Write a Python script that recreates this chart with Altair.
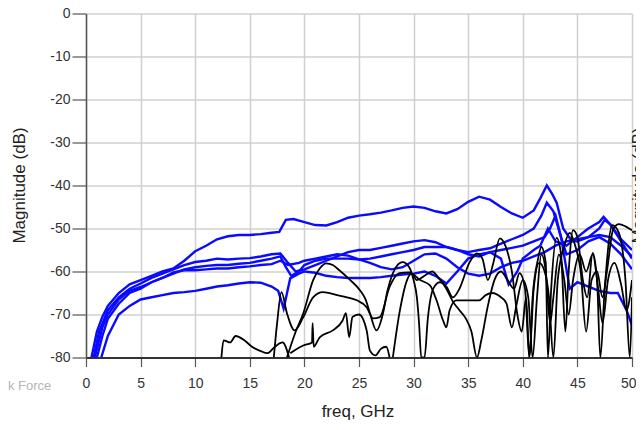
import altair as alt
import pandas as pd

x_ticks = [0, 5, 10, 15, 20, 25, 30, 35, 40, 45, 50]
y_ticks = [-80, -75, -70, -65, -60, -55, -50, -45, -40, -35, -30, -25, -20, -15, -10, -5, 0]

blue_1 = [(0.5,-80),(1,-74),(1.5,-70.5),(2,-68),(3,-65),(4,-63),(5,-62),(6,-61),(7,-60),(8,-59.3),(9,-57.5),(10,-55.3),
          (11,-54),(12,-52.5),(13,-51.8),(14,-51.5),(15,-51.5),(16,-51.3),(17,-51),(17.7,-50.8),(18.3,-48),(19,-47.8),
          (20,-48.5),(21,-49.2),(22,-49.3),(23,-48.5),(24,-47.5),(25,-47),(26,-46.7),(27,-46.3),(28,-45.8),(29,-45.2),
          (30,-44.9),(31,-45.2),(32,-46),(33,-46.5),(34,-45.5),(35,-43.8),(36,-42.6),(37,-43.3),(38,-45),(39,-46.5),
          (40,-47.5),(41,-45.8),(41.6,-43),(42.2,-40),(42.7,-42),(43.1,-44),(43.7,-50),(44.5,-53),(45,-53),(46,-52),
          (47,-50),(47.5,-48),(48,-49),(49,-53),(50,-57)]
blue_2 = [(0.7,-80),(1.2,-74),(2,-69),(3,-66),(4,-64),(5,-62.8),(6,-61.5),(7,-60.5),(8,-59.5),(9,-58.5),(10,-57.8),
          (11,-57.5),(12,-57),(13,-57.2),(14,-57),(15,-56.9),(16,-56.5),(17,-56),(17.8,-55.8),(18.5,-58),(19.2,-60),
          (20,-59.5),(21,-58.5),(22,-57.5),(23,-56.5),(24,-55.5),(25,-55),(26,-55),(27,-54.5),(28,-54),(29,-53.5),
          (30,-53),(31,-52.7),(32,-53.2),(33,-54.3),(34,-55),(35,-55.5),(36,-55),(37,-54.6),(38,-53.5),(39,-52.5),
          (40,-51.5),(41,-50),(41.7,-47),(42.2,-44),(42.8,-46),(43.5,-52),(44,-56),(45,-55),(46,-53),(47,-52),
          (48,-53.5),(49,-56),(50,-59.5)]
blue_3 = [(0.8,-80),(1.5,-73),(2,-70),(3,-66.5),(4,-64.5),(5,-63.6),(6,-62.5),(7,-61.5),(8,-60.5),(9,-59.5),(10,-59),
          (11,-58.7),(12,-58.5),(13,-58.5),(14,-58.2),(15,-58),(16,-57.5),(17,-57),(17.8,-56.5),(18.3,-59),(18.8,-61),
          (19.5,-60),(20,-58.5),(21,-57.5),(22,-57),(23,-57),(24,-57),(25,-57.2),(26,-57),(27,-56.5),(28,-56),
          (29,-55.5),(30,-55),(31,-54.3),(32,-54.3),(33,-54.3),(34,-55),(35,-56),(36,-56.5),(37,-55.5),(38,-55),
          (39,-54.5),(40,-54),(41,-53),(42,-52),(42.5,-50),(43,-47),(43.5,-52),(44.3,-64),(45,-62.5),(46,-63.5),
          (47,-64.5),(48,-65),(48.7,-65),(49.5,-69),(50,-72.5)]
blue_4 = [(1,-80),(1.5,-75),(2,-71),(3,-67.5),(4,-65),(5,-64),(6,-62.5),(7,-61.5),(8,-60.2),(9,-59.7),(10,-59.7),
          (11,-59.5),(12,-59.3),(13,-59.3),(14,-59),(15,-58.8),(16,-58.5),(17,-58.3),(17.8,-57.5),(18.5,-58.5),
          (19.5,-58),(20,-57.5),(21,-57),(22,-56.5),(23,-56),(24,-56.3),(25,-57.2),(26,-58),(27,-59),(28,-59.5),
          (29,-59),(30,-57.5),(31,-56),(32,-55.8),(33,-57),(34,-59),(35,-60.5),(36,-61),(37,-60.5),(38,-59),(39,-58),
          (40,-57.5),(41,-56.5),(42,-55.5),(43,-54),(44,-53),(45,-52.5),(46,-52),(47,-51.5),(48,-52),(49,-54),(50,-56.5)]
blue_5 = [(1.4,-80),(2,-75),(3,-70),(4,-68),(5,-66.5),(6,-66),(7,-65.5),(8,-65),(9,-64.8),(10,-64.5),(11,-64),
          (12,-63.5),(13,-63.2),(14,-62.8),(15,-62.5),(16,-62.6),(17,-63.5),(17.6,-64.5),(18.1,-68.6),(18.7,-61.6),
          (19.5,-60.5),(20,-60),(21,-60.3),(22,-61),(23,-61.3),(24,-61.5),(25,-61.5),(26,-61.5),(27,-61.3),(28,-61),
          (29,-60.7),(30,-60.5),(31,-60),(32,-61),(33,-62.8),(34,-60),(35,-57),(36,-56),(37,-55.5),(38,-57),(38.7,-63),
          (39.5,-60),(40,-57),(41,-55),(41.6,-54),(42.3,-50),(43,-53),(44,-54),(45,-52),(46,-50),(47,-48.5),
          (47.4,-47.3),(48,-49),(49,-52.5),(50,-55)]

black_1 = [(12.4,-80),(12.6,-76),(13.2,-76.5),(13.7,-75),(14.5,-76),(15.2,-77.5),(16,-78.5),(16.6,-79),(17.3,-77.5),
           (18,-76.5),(18.6,-80)]
black_2 = [(17.2,-80),(17.5,-72),(17.9,-64.8),(18.4,-69.7),(19.1,-73.7),(19.9,-70.6),(20.8,-66),(21.7,-64.8),
           (23,-65.5),(23.9,-66),(24.8,-66.7),(25.7,-68.3),(26.3,-70.9),(26.9,-70.6),(27.8,-63.6),(28.7,-60.4),
           (29.6,-60.2),(30.6,-62),(31.5,-63.2),(32.1,-66.7),(32.7,-71.4),(33,-73),(33.3,-69),(33.9,-66.7),
           (35.1,-66.7),(36,-66.7),(36.6,-65.5),(37.2,-65),(38,-66),(38.5,-67.4),(39,-73),(39.4,-68),(40,-62),
           (40.5,-66),(40.9,-80),(41.3,-66),(41.7,-56),(42.1,-60),(42.5,-72),(42.8,-66),(43.3,-56),(43.8,-62),
           (44.2,-70),(44.6,-62),(45.2,-56),(45.8,-60),(46.4,-56),(46.9,-64),(47.3,-72),(47.8,-62),(48.4,-58),
           (49,-63),(49.5,-69),(50,-62)]
black_3 = [(18.4,-80),(19.2,-74),(19.9,-69.7),(20.8,-62),(21.4,-59.3),(22,-58.1),(22.6,-58.5),(23.2,-59.7),
           (24.2,-62),(25.1,-64.4),(25.6,-66.5),(26,-69.7),(26.6,-73.7),(27.2,-69.7),(27.6,-64.5),(28.1,-60.4),
           (28.6,-58.3),(29,-57.8),(29.6,-59),(30,-62),(30.3,-66),(30.5,-72),(30.7,-80),(31,-80),(31.3,-71),
           (31.8,-64),(32.4,-62.5),(33,-63.5),(33.6,-66),(34.2,-64),(35.1,-58),(35.8,-55.8),(36.3,-57),(36.8,-62),
           (37.3,-58),(37.9,-52.3),(38.4,-54),(39,-60),(39.5,-70),(39.9,-74),(40.3,-66),(40.6,-80),(40.9,-66),
           (41.4,-57),(41.7,-54.3),(42.1,-58),(42.3,-80),(42.6,-64),(43.1,-52.2),(43.5,-56),(43.9,-74),(44.2,-60),
           (44.6,-50.4),(45,-52),(45.5,-62),(45.9,-66),(46.4,-55.7),(46.8,-62),(47.1,-80),(47.5,-64),(48.2,-49.2),
           (48.8,-51),(49.4,-62),(49.8,-80),(50,-66)]
black_4 = [(18.7,-79),(19.3,-78),(19.9,-77.2),(20.7,-76.5),(20.75,-72),(20.85,-77.5),(21.4,-75.3),(22.6,-73.7),
           (23.5,-71.4),(23.8,-69.7),(24.1,-75.3),(24.4,-70.6),(25,-70),(25.7,-73.7),(26,-78.4),(26.5,-79.5),
           (27,-78),(27.5,-77.5),(27.8,-80)]
black_5 = [(28.1,-80),(28.7,-69.7),(29.4,-62),(29.8,-60.5),(30.3,-62),(31,-61),(31.7,-60),(32.3,-61.5),(33,-64),
           (33.6,-67),(34.2,-69),(34.8,-71),(35.3,-74),(35.8,-80),(36.2,-76),(36.8,-68),(37.4,-62),(38,-60),
           (38.6,-62),(39.2,-64),(39.7,-60.4),(40.2,-64),(40.6,-80),(41,-64),(41.5,-58),(42,-60),(42.4,-66),
           (42.8,-80),(43.2,-62),(43.8,-54),(44.3,-51),(44.8,-54),(45.3,-60),(45.8,-74),(46.3,-62),(46.8,-60),
           (47.3,-66),(47.7,-60),(48.3,-50),(48.8,-49),(49.4,-49.5),(50,-50.4)]

blue_series = {"b1": blue_1, "b2": blue_2, "b3": blue_3, "b4": blue_4, "b5": blue_5}
black_series = {"k1": black_1, "k2": black_2, "k3": black_3, "k4": black_4, "k5": black_5}


def to_frame(series):
    rows = []
    for name, pts in series.items():
        for i, (f, d) in enumerate(pts):
            rows.append({"series": name, "freq": f, "db": d, "idx": i})
    return pd.DataFrame(rows)


FONT = "Liberation Sans"
major = "datum.value % 10 === 0"
last = "datum.value === 50"

x_enc = alt.X("freq:Q", scale=alt.Scale(domain=[0, 50], nice=False, zero=False),
              axis=alt.Axis(values=x_ticks, title=None, labelExpr="'' + datum.value",
                            labelFont=FONT, labelFontSize=14, labelColor="#333", labelPadding=10,
                            labelAlign={"condition": {"test": last, "value": "right"}, "value": "center"},
                            labelOffset={"condition": {"test": last, "value": 4}, "value": 0},
                            tickSize=9, tickColor="#555", tickWidth=1.2,
                            domainColor="#333", domainWidth=2,
                            gridColor="#d0d0d0", gridWidth=1.5, labelFlush=False))
y_enc = alt.Y("db:Q", scale=alt.Scale(domain=[-80, 0], nice=False, zero=False),
              axis=alt.Axis(values=y_ticks, title=None,
                            labelExpr=major + " ? '' + datum.value : ''",
                            labelFont=FONT, labelFontSize=14, labelColor="#333", labelPadding=2,
                            tickSize={"condition": {"test": major, "value": 14}, "value": 6},
                            tickColor="#555", tickWidth=1.2,
                            domainColor="#555", domainWidth=1.5,
                            gridColor="#d0d0d0", gridWidth=1.5,
                            gridOpacity={"condition": {"test": major, "value": 1}, "value": 0}))

blue = alt.Chart(to_frame(blue_series)).mark_line(color="#0a0aff", strokeWidth=2.4, clip=True).encode(
    x=x_enc, y=y_enc, detail="series:N", order="idx:Q")
black = alt.Chart(to_frame(black_series)).mark_line(color="#000000", strokeWidth=1.8, clip=True,
                                                     interpolate="monotone").encode(
    x="freq:Q", y="db:Q", detail="series:N", order="idx:Q")


def label(txt, x, y, size, color="#222", angle=0, align="center"):
    return alt.Chart(pd.DataFrame({"t": [txt]})).mark_text(
        font=FONT, fontSize=size, color=color, angle=angle, align=align, baseline="middle"
    ).encode(text="t:N", x=alt.value(x), y=alt.value(y))


y_title = label("Magnitude (dB)", -66, 172, 17, angle=270)
x_title = label("freq, GHz", 272, 398, 17)
watermark = label("k Force", -78, 372, 13, color="#b5b5b5", align="left")
right_title = label("Magnitude (dB)", 553, 172, 17, angle=270)

chart = alt.layer(blue, black, y_title, x_title, watermark, right_title).properties(
    width=546, height=344,
    padding={"left": 78, "top": 5.5, "right": 4, "bottom": 64},
    autosize=alt.AutoSizeParams(type="none"),
).configure_view(stroke=None)

chart.save("out.html", embed_options={"renderer": "svg", "actions": False})
